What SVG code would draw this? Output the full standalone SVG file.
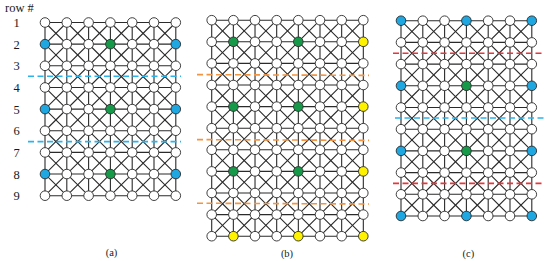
<svg xmlns="http://www.w3.org/2000/svg" width="550" height="261" viewBox="0 0 550 261">
<style>
.bg{fill:#fff}
.edges path{fill:none;stroke:#2b2b2b;stroke-width:1.1;vector-effect:non-scaling-stroke}
.nodes circle{fill:#fff;stroke:#2b2b2b;stroke-width:0.9}
.nodes .b circle{fill:#1ea7e1}
.nodes .g circle{fill:#17994a}
.nodes .y circle{fill:#fff200}
.cut{fill:none;stroke-width:1.6;stroke-dasharray:6 3.5}
.cb{stroke:#2ab4ec}
.co{stroke:#f39442}
.cr{stroke:#e8353b}
text{font-family:"Liberation Serif","Times New Roman",serif;fill:#1a1a1a}
.rl{font-size:12.5px;text-anchor:middle}
.cap{font-size:10.5px;text-anchor:middle}
</style>
<rect class="bg" x="0" y="0" width="550" height="261"/>
<g id="labels">
<text x="5" y="12" style="font-size:12.5px">row #</text>
<text class="rl" x="16.7" y="26.9">1</text>
<text class="rl" x="16.7" y="48.6">2</text>
<text class="rl" x="16.7" y="70.2">3</text>
<text class="rl" x="16.7" y="91.9">4</text>
<text class="rl" x="16.7" y="113.5">5</text>
<text class="rl" x="16.7" y="135.2">6</text>
<text class="rl" x="16.7" y="156.8">7</text>
<text class="rl" x="16.7" y="178.5">8</text>
<text class="rl" x="16.7" y="200.1">9</text>
<text class="cap" x="111.5" y="256">(a)</text>
<text class="cap" x="287" y="256.5">(b)</text>
<text class="cap" x="468.3" y="256.5">(c)</text>
</g>
<g id="connectors" class="edges">
<g transform="translate(45 22.5) scale(21.8 21.65)">
<path d="M0 0H6M0 1H6M0 2H6M0 3H6M0 4H6M0 5H6M0 6H6M0 7H6M0 8H6M0 0V8M1 0V8M2 0V8M3 0V8M4 0V8M5 0V8M6 0V8"/>
<path d="M5 0L6 1M4 0L6 2M3 0L6 3M2 0L6 4M1 0L6 5M0 0L6 6M0 1L6 7M0 2L6 8M0 3L5 8M0 4L4 8M0 5L3 8M0 6L2 8M0 7L1 8"/>
<path d="M1 0L0 1M2 0L0 2M3 0L0 3M4 0L0 4M5 0L0 5M6 0L0 6M6 1L0 7M6 2L0 8M6 3L1 8M6 4L2 8M6 5L3 8M6 6L4 8M6 7L5 8"/>
</g>
<g transform="translate(211.7 20.2) scale(21.66 21.6)">
<path d="M0 0H7M0 1H7M0 2H7M0 3H7M0 4H7M0 5H7M0 6H7M0 7H7M0 8H7M0 9H7M0 10H7M0 0V10M1 0V10M2 0V10M3 0V10M4 0V10M5 0V10M6 0V10M7 0V10"/>
<path d="M6 0L7 1M5 0L7 2M4 0L7 3M3 0L7 4M2 0L7 5M1 0L7 6M0 0L7 7M0 1L7 8M0 2L7 9M0 3L7 10M0 4L6 10M0 5L5 10M0 6L4 10M0 7L3 10M0 8L2 10M0 9L1 10"/>
<path d="M1 0L0 1M2 0L0 2M3 0L0 3M4 0L0 4M5 0L0 5M6 0L0 6M7 0L0 7M7 1L0 8M7 2L0 9M7 3L0 10M7 4L1 10M7 5L2 10M7 6L3 10M7 7L4 10M7 8L5 10M7 9L6 10"/>
</g>
<g transform="translate(401 20.7) scale(21.8 21.7)">
<path d="M0 0H6M0 1H6M0 2H6M0 3H6M0 4H6M0 5H6M0 6H6M0 7H6M0 8H6M0 9H6M0 0V9M1 0V9M2 0V9M3 0V9M4 0V9M5 0V9M6 0V9"/>
<path d="M5 0L6 1M4 0L6 2M3 0L6 3M2 0L6 4M1 0L6 5M0 0L6 6M0 1L6 7M0 2L6 8M0 3L6 9M0 4L5 9M0 5L4 9M0 6L3 9M0 7L2 9M0 8L1 9"/>
<path d="M1 0L0 1M2 0L0 2M3 0L0 3M4 0L0 4M5 0L0 5M6 0L0 6M6 1L0 7M6 2L0 8M6 3L0 9M6 4L1 9M6 5L2 9M6 6L3 9M6 7L4 9M6 8L5 9"/>
</g>
</g>
<g id="cuts">
<path class="cut cb" d="M28 76.3H181M28 141.6H181"/>
<path class="cut co" d="M197 74.6L369 75.4M197 139.6L369 140.4M197 203.2L369 204"/>
<path class="cut cr" d="M393 53.3H543.5M393 183.4H543.5"/>
<path class="cut cb" d="M395 118H547"/>
</g>
<g id="nodes-a" class="nodes">
<g id="a-r1c1"><circle cx="45" cy="22.5" r="4.8"/></g>
<g id="a-r1c2"><circle cx="66.8" cy="22.5" r="4.8"/></g>
<g id="a-r1c3"><circle cx="88.6" cy="22.5" r="4.8"/></g>
<g id="a-r1c4"><circle cx="110.4" cy="22.5" r="4.8"/></g>
<g id="a-r1c5"><circle cx="132.2" cy="22.5" r="4.8"/></g>
<g id="a-r1c6"><circle cx="154" cy="22.5" r="4.8"/></g>
<g id="a-r1c7"><circle cx="175.8" cy="22.5" r="4.8"/></g>
<g id="a-r2c1" class="b"><circle cx="45" cy="44.15" r="4.8"/></g>
<g id="a-r2c2"><circle cx="66.8" cy="44.15" r="4.8"/></g>
<g id="a-r2c3"><circle cx="88.6" cy="44.15" r="4.8"/></g>
<g id="a-r2c4" class="g"><circle cx="110.4" cy="44.15" r="4.8"/></g>
<g id="a-r2c5"><circle cx="132.2" cy="44.15" r="4.8"/></g>
<g id="a-r2c6"><circle cx="154" cy="44.15" r="4.8"/></g>
<g id="a-r2c7" class="b"><circle cx="175.8" cy="44.15" r="4.8"/></g>
<g id="a-r3c1"><circle cx="45" cy="65.8" r="4.8"/></g>
<g id="a-r3c2"><circle cx="66.8" cy="65.8" r="4.8"/></g>
<g id="a-r3c3"><circle cx="88.6" cy="65.8" r="4.8"/></g>
<g id="a-r3c4"><circle cx="110.4" cy="65.8" r="4.8"/></g>
<g id="a-r3c5"><circle cx="132.2" cy="65.8" r="4.8"/></g>
<g id="a-r3c6"><circle cx="154" cy="65.8" r="4.8"/></g>
<g id="a-r3c7"><circle cx="175.8" cy="65.8" r="4.8"/></g>
<g id="a-r4c1"><circle cx="45" cy="87.45" r="4.8"/></g>
<g id="a-r4c2"><circle cx="66.8" cy="87.45" r="4.8"/></g>
<g id="a-r4c3"><circle cx="88.6" cy="87.45" r="4.8"/></g>
<g id="a-r4c4"><circle cx="110.4" cy="87.45" r="4.8"/></g>
<g id="a-r4c5"><circle cx="132.2" cy="87.45" r="4.8"/></g>
<g id="a-r4c6"><circle cx="154" cy="87.45" r="4.8"/></g>
<g id="a-r4c7"><circle cx="175.8" cy="87.45" r="4.8"/></g>
<g id="a-r5c1" class="b"><circle cx="45" cy="109.1" r="4.8"/></g>
<g id="a-r5c2"><circle cx="66.8" cy="109.1" r="4.8"/></g>
<g id="a-r5c3"><circle cx="88.6" cy="109.1" r="4.8"/></g>
<g id="a-r5c4" class="g"><circle cx="110.4" cy="109.1" r="4.8"/></g>
<g id="a-r5c5"><circle cx="132.2" cy="109.1" r="4.8"/></g>
<g id="a-r5c6"><circle cx="154" cy="109.1" r="4.8"/></g>
<g id="a-r5c7" class="b"><circle cx="175.8" cy="109.1" r="4.8"/></g>
<g id="a-r6c1"><circle cx="45" cy="130.75" r="4.8"/></g>
<g id="a-r6c2"><circle cx="66.8" cy="130.75" r="4.8"/></g>
<g id="a-r6c3"><circle cx="88.6" cy="130.75" r="4.8"/></g>
<g id="a-r6c4"><circle cx="110.4" cy="130.75" r="4.8"/></g>
<g id="a-r6c5"><circle cx="132.2" cy="130.75" r="4.8"/></g>
<g id="a-r6c6"><circle cx="154" cy="130.75" r="4.8"/></g>
<g id="a-r6c7"><circle cx="175.8" cy="130.75" r="4.8"/></g>
<g id="a-r7c1"><circle cx="45" cy="152.4" r="4.8"/></g>
<g id="a-r7c2"><circle cx="66.8" cy="152.4" r="4.8"/></g>
<g id="a-r7c3"><circle cx="88.6" cy="152.4" r="4.8"/></g>
<g id="a-r7c4"><circle cx="110.4" cy="152.4" r="4.8"/></g>
<g id="a-r7c5"><circle cx="132.2" cy="152.4" r="4.8"/></g>
<g id="a-r7c6"><circle cx="154" cy="152.4" r="4.8"/></g>
<g id="a-r7c7"><circle cx="175.8" cy="152.4" r="4.8"/></g>
<g id="a-r8c1" class="b"><circle cx="45" cy="174.05" r="4.8"/></g>
<g id="a-r8c2"><circle cx="66.8" cy="174.05" r="4.8"/></g>
<g id="a-r8c3"><circle cx="88.6" cy="174.05" r="4.8"/></g>
<g id="a-r8c4" class="g"><circle cx="110.4" cy="174.05" r="4.8"/></g>
<g id="a-r8c5"><circle cx="132.2" cy="174.05" r="4.8"/></g>
<g id="a-r8c6"><circle cx="154" cy="174.05" r="4.8"/></g>
<g id="a-r8c7" class="b"><circle cx="175.8" cy="174.05" r="4.8"/></g>
<g id="a-r9c1"><circle cx="45" cy="195.7" r="4.8"/></g>
<g id="a-r9c2"><circle cx="66.8" cy="195.7" r="4.8"/></g>
<g id="a-r9c3"><circle cx="88.6" cy="195.7" r="4.8"/></g>
<g id="a-r9c4"><circle cx="110.4" cy="195.7" r="4.8"/></g>
<g id="a-r9c5"><circle cx="132.2" cy="195.7" r="4.8"/></g>
<g id="a-r9c6"><circle cx="154" cy="195.7" r="4.8"/></g>
<g id="a-r9c7"><circle cx="175.8" cy="195.7" r="4.8"/></g>
</g>
<g id="nodes-b" class="nodes">
<g id="b-r1c1"><circle cx="211.7" cy="20.2" r="4.8"/></g>
<g id="b-r1c2"><circle cx="233.4" cy="20.2" r="4.8"/></g>
<g id="b-r1c3"><circle cx="255" cy="20.2" r="4.8"/></g>
<g id="b-r1c4"><circle cx="276.7" cy="20.2" r="4.8"/></g>
<g id="b-r1c5"><circle cx="298.3" cy="20.2" r="4.8"/></g>
<g id="b-r1c6"><circle cx="320" cy="20.2" r="4.8"/></g>
<g id="b-r1c7"><circle cx="341.7" cy="20.2" r="4.8"/></g>
<g id="b-r1c8"><circle cx="363.3" cy="20.2" r="4.8"/></g>
<g id="b-r2c1"><circle cx="211.7" cy="41.8" r="4.8"/></g>
<g id="b-r2c2" class="g"><circle cx="233.4" cy="41.8" r="4.8"/></g>
<g id="b-r2c3"><circle cx="255" cy="41.8" r="4.8"/></g>
<g id="b-r2c4"><circle cx="276.7" cy="41.8" r="4.8"/></g>
<g id="b-r2c5" class="g"><circle cx="298.3" cy="41.8" r="4.8"/></g>
<g id="b-r2c6"><circle cx="320" cy="41.8" r="4.8"/></g>
<g id="b-r2c7"><circle cx="341.7" cy="41.8" r="4.8"/></g>
<g id="b-r2c8" class="y"><circle cx="363.3" cy="41.8" r="4.8"/></g>
<g id="b-r3c1"><circle cx="211.7" cy="63.4" r="4.8"/></g>
<g id="b-r3c2"><circle cx="233.4" cy="63.4" r="4.8"/></g>
<g id="b-r3c3"><circle cx="255" cy="63.4" r="4.8"/></g>
<g id="b-r3c4"><circle cx="276.7" cy="63.4" r="4.8"/></g>
<g id="b-r3c5"><circle cx="298.3" cy="63.4" r="4.8"/></g>
<g id="b-r3c6"><circle cx="320" cy="63.4" r="4.8"/></g>
<g id="b-r3c7"><circle cx="341.7" cy="63.4" r="4.8"/></g>
<g id="b-r3c8"><circle cx="363.3" cy="63.4" r="4.8"/></g>
<g id="b-r4c1"><circle cx="211.7" cy="85" r="4.8"/></g>
<g id="b-r4c2"><circle cx="233.4" cy="85" r="4.8"/></g>
<g id="b-r4c3"><circle cx="255" cy="85" r="4.8"/></g>
<g id="b-r4c4"><circle cx="276.7" cy="85" r="4.8"/></g>
<g id="b-r4c5"><circle cx="298.3" cy="85" r="4.8"/></g>
<g id="b-r4c6"><circle cx="320" cy="85" r="4.8"/></g>
<g id="b-r4c7"><circle cx="341.7" cy="85" r="4.8"/></g>
<g id="b-r4c8"><circle cx="363.3" cy="85" r="4.8"/></g>
<g id="b-r5c1"><circle cx="211.7" cy="106.6" r="4.8"/></g>
<g id="b-r5c2" class="g"><circle cx="233.4" cy="106.6" r="4.8"/></g>
<g id="b-r5c3"><circle cx="255" cy="106.6" r="4.8"/></g>
<g id="b-r5c4"><circle cx="276.7" cy="106.6" r="4.8"/></g>
<g id="b-r5c5" class="g"><circle cx="298.3" cy="106.6" r="4.8"/></g>
<g id="b-r5c6"><circle cx="320" cy="106.6" r="4.8"/></g>
<g id="b-r5c7"><circle cx="341.7" cy="106.6" r="4.8"/></g>
<g id="b-r5c8" class="y"><circle cx="363.3" cy="106.6" r="4.8"/></g>
<g id="b-r6c1"><circle cx="211.7" cy="128.2" r="4.8"/></g>
<g id="b-r6c2"><circle cx="233.4" cy="128.2" r="4.8"/></g>
<g id="b-r6c3"><circle cx="255" cy="128.2" r="4.8"/></g>
<g id="b-r6c4"><circle cx="276.7" cy="128.2" r="4.8"/></g>
<g id="b-r6c5"><circle cx="298.3" cy="128.2" r="4.8"/></g>
<g id="b-r6c6"><circle cx="320" cy="128.2" r="4.8"/></g>
<g id="b-r6c7"><circle cx="341.7" cy="128.2" r="4.8"/></g>
<g id="b-r6c8"><circle cx="363.3" cy="128.2" r="4.8"/></g>
<g id="b-r7c1"><circle cx="211.7" cy="149.8" r="4.8"/></g>
<g id="b-r7c2"><circle cx="233.4" cy="149.8" r="4.8"/></g>
<g id="b-r7c3"><circle cx="255" cy="149.8" r="4.8"/></g>
<g id="b-r7c4"><circle cx="276.7" cy="149.8" r="4.8"/></g>
<g id="b-r7c5"><circle cx="298.3" cy="149.8" r="4.8"/></g>
<g id="b-r7c6"><circle cx="320" cy="149.8" r="4.8"/></g>
<g id="b-r7c7"><circle cx="341.7" cy="149.8" r="4.8"/></g>
<g id="b-r7c8"><circle cx="363.3" cy="149.8" r="4.8"/></g>
<g id="b-r8c1"><circle cx="211.7" cy="171.4" r="4.8"/></g>
<g id="b-r8c2" class="g"><circle cx="233.4" cy="171.4" r="4.8"/></g>
<g id="b-r8c3"><circle cx="255" cy="171.4" r="4.8"/></g>
<g id="b-r8c4"><circle cx="276.7" cy="171.4" r="4.8"/></g>
<g id="b-r8c5" class="g"><circle cx="298.3" cy="171.4" r="4.8"/></g>
<g id="b-r8c6"><circle cx="320" cy="171.4" r="4.8"/></g>
<g id="b-r8c7"><circle cx="341.7" cy="171.4" r="4.8"/></g>
<g id="b-r8c8" class="y"><circle cx="363.3" cy="171.4" r="4.8"/></g>
<g id="b-r9c1"><circle cx="211.7" cy="193" r="4.8"/></g>
<g id="b-r9c2"><circle cx="233.4" cy="193" r="4.8"/></g>
<g id="b-r9c3"><circle cx="255" cy="193" r="4.8"/></g>
<g id="b-r9c4"><circle cx="276.7" cy="193" r="4.8"/></g>
<g id="b-r9c5"><circle cx="298.3" cy="193" r="4.8"/></g>
<g id="b-r9c6"><circle cx="320" cy="193" r="4.8"/></g>
<g id="b-r9c7"><circle cx="341.7" cy="193" r="4.8"/></g>
<g id="b-r9c8"><circle cx="363.3" cy="193" r="4.8"/></g>
<g id="b-r10c1"><circle cx="211.7" cy="214.6" r="4.8"/></g>
<g id="b-r10c2"><circle cx="233.4" cy="214.6" r="4.8"/></g>
<g id="b-r10c3"><circle cx="255" cy="214.6" r="4.8"/></g>
<g id="b-r10c4"><circle cx="276.7" cy="214.6" r="4.8"/></g>
<g id="b-r10c5"><circle cx="298.3" cy="214.6" r="4.8"/></g>
<g id="b-r10c6"><circle cx="320" cy="214.6" r="4.8"/></g>
<g id="b-r10c7"><circle cx="341.7" cy="214.6" r="4.8"/></g>
<g id="b-r10c8"><circle cx="363.3" cy="214.6" r="4.8"/></g>
<g id="b-r11c1"><circle cx="211.7" cy="236.2" r="4.8"/></g>
<g id="b-r11c2" class="y"><circle cx="233.4" cy="236.2" r="4.8"/></g>
<g id="b-r11c3"><circle cx="255" cy="236.2" r="4.8"/></g>
<g id="b-r11c4"><circle cx="276.7" cy="236.2" r="4.8"/></g>
<g id="b-r11c5" class="y"><circle cx="298.3" cy="236.2" r="4.8"/></g>
<g id="b-r11c6"><circle cx="320" cy="236.2" r="4.8"/></g>
<g id="b-r11c7"><circle cx="341.7" cy="236.2" r="4.8"/></g>
<g id="b-r11c8" class="y"><circle cx="363.3" cy="236.2" r="4.8"/></g>
</g>
<g id="nodes-c" class="nodes">
<g id="c-r1c1" class="b"><circle cx="401" cy="20.7" r="4.8"/></g>
<g id="c-r1c2"><circle cx="422.8" cy="20.7" r="4.8"/></g>
<g id="c-r1c3"><circle cx="444.6" cy="20.7" r="4.8"/></g>
<g id="c-r1c4" class="b"><circle cx="466.4" cy="20.7" r="4.8"/></g>
<g id="c-r1c5"><circle cx="488.2" cy="20.7" r="4.8"/></g>
<g id="c-r1c6"><circle cx="510" cy="20.7" r="4.8"/></g>
<g id="c-r1c7" class="b"><circle cx="531.8" cy="20.7" r="4.8"/></g>
<g id="c-r2c1"><circle cx="401" cy="42.4" r="4.8"/></g>
<g id="c-r2c2"><circle cx="422.8" cy="42.4" r="4.8"/></g>
<g id="c-r2c3"><circle cx="444.6" cy="42.4" r="4.8"/></g>
<g id="c-r2c4"><circle cx="466.4" cy="42.4" r="4.8"/></g>
<g id="c-r2c5"><circle cx="488.2" cy="42.4" r="4.8"/></g>
<g id="c-r2c6"><circle cx="510" cy="42.4" r="4.8"/></g>
<g id="c-r2c7"><circle cx="531.8" cy="42.4" r="4.8"/></g>
<g id="c-r3c1"><circle cx="401" cy="64.1" r="4.8"/></g>
<g id="c-r3c2"><circle cx="422.8" cy="64.1" r="4.8"/></g>
<g id="c-r3c3"><circle cx="444.6" cy="64.1" r="4.8"/></g>
<g id="c-r3c4"><circle cx="466.4" cy="64.1" r="4.8"/></g>
<g id="c-r3c5"><circle cx="488.2" cy="64.1" r="4.8"/></g>
<g id="c-r3c6"><circle cx="510" cy="64.1" r="4.8"/></g>
<g id="c-r3c7"><circle cx="531.8" cy="64.1" r="4.8"/></g>
<g id="c-r4c1" class="b"><circle cx="401" cy="85.8" r="4.8"/></g>
<g id="c-r4c2"><circle cx="422.8" cy="85.8" r="4.8"/></g>
<g id="c-r4c3"><circle cx="444.6" cy="85.8" r="4.8"/></g>
<g id="c-r4c4" class="g"><circle cx="466.4" cy="85.8" r="4.8"/></g>
<g id="c-r4c5"><circle cx="488.2" cy="85.8" r="4.8"/></g>
<g id="c-r4c6"><circle cx="510" cy="85.8" r="4.8"/></g>
<g id="c-r4c7" class="b"><circle cx="531.8" cy="85.8" r="4.8"/></g>
<g id="c-r5c1"><circle cx="401" cy="107.5" r="4.8"/></g>
<g id="c-r5c2"><circle cx="422.8" cy="107.5" r="4.8"/></g>
<g id="c-r5c3"><circle cx="444.6" cy="107.5" r="4.8"/></g>
<g id="c-r5c4"><circle cx="466.4" cy="107.5" r="4.8"/></g>
<g id="c-r5c5"><circle cx="488.2" cy="107.5" r="4.8"/></g>
<g id="c-r5c6"><circle cx="510" cy="107.5" r="4.8"/></g>
<g id="c-r5c7"><circle cx="531.8" cy="107.5" r="4.8"/></g>
<g id="c-r6c1"><circle cx="401" cy="129.2" r="4.8"/></g>
<g id="c-r6c2"><circle cx="422.8" cy="129.2" r="4.8"/></g>
<g id="c-r6c3"><circle cx="444.6" cy="129.2" r="4.8"/></g>
<g id="c-r6c4"><circle cx="466.4" cy="129.2" r="4.8"/></g>
<g id="c-r6c5"><circle cx="488.2" cy="129.2" r="4.8"/></g>
<g id="c-r6c6"><circle cx="510" cy="129.2" r="4.8"/></g>
<g id="c-r6c7"><circle cx="531.8" cy="129.2" r="4.8"/></g>
<g id="c-r7c1" class="b"><circle cx="401" cy="150.9" r="4.8"/></g>
<g id="c-r7c2"><circle cx="422.8" cy="150.9" r="4.8"/></g>
<g id="c-r7c3"><circle cx="444.6" cy="150.9" r="4.8"/></g>
<g id="c-r7c4" class="g"><circle cx="466.4" cy="150.9" r="4.8"/></g>
<g id="c-r7c5"><circle cx="488.2" cy="150.9" r="4.8"/></g>
<g id="c-r7c6"><circle cx="510" cy="150.9" r="4.8"/></g>
<g id="c-r7c7" class="b"><circle cx="531.8" cy="150.9" r="4.8"/></g>
<g id="c-r8c1"><circle cx="401" cy="172.6" r="4.8"/></g>
<g id="c-r8c2"><circle cx="422.8" cy="172.6" r="4.8"/></g>
<g id="c-r8c3"><circle cx="444.6" cy="172.6" r="4.8"/></g>
<g id="c-r8c4"><circle cx="466.4" cy="172.6" r="4.8"/></g>
<g id="c-r8c5"><circle cx="488.2" cy="172.6" r="4.8"/></g>
<g id="c-r8c6"><circle cx="510" cy="172.6" r="4.8"/></g>
<g id="c-r8c7"><circle cx="531.8" cy="172.6" r="4.8"/></g>
<g id="c-r9c1"><circle cx="401" cy="194.3" r="4.8"/></g>
<g id="c-r9c2"><circle cx="422.8" cy="194.3" r="4.8"/></g>
<g id="c-r9c3"><circle cx="444.6" cy="194.3" r="4.8"/></g>
<g id="c-r9c4"><circle cx="466.4" cy="194.3" r="4.8"/></g>
<g id="c-r9c5"><circle cx="488.2" cy="194.3" r="4.8"/></g>
<g id="c-r9c6"><circle cx="510" cy="194.3" r="4.8"/></g>
<g id="c-r9c7"><circle cx="531.8" cy="194.3" r="4.8"/></g>
<g id="c-r10c1" class="b"><circle cx="401" cy="216" r="4.8"/></g>
<g id="c-r10c2"><circle cx="422.8" cy="216" r="4.8"/></g>
<g id="c-r10c3"><circle cx="444.6" cy="216" r="4.8"/></g>
<g id="c-r10c4" class="b"><circle cx="466.4" cy="216" r="4.8"/></g>
<g id="c-r10c5"><circle cx="488.2" cy="216" r="4.8"/></g>
<g id="c-r10c6"><circle cx="510" cy="216" r="4.8"/></g>
<g id="c-r10c7" class="b"><circle cx="531.8" cy="216" r="4.8"/></g>
</g>
</svg>
